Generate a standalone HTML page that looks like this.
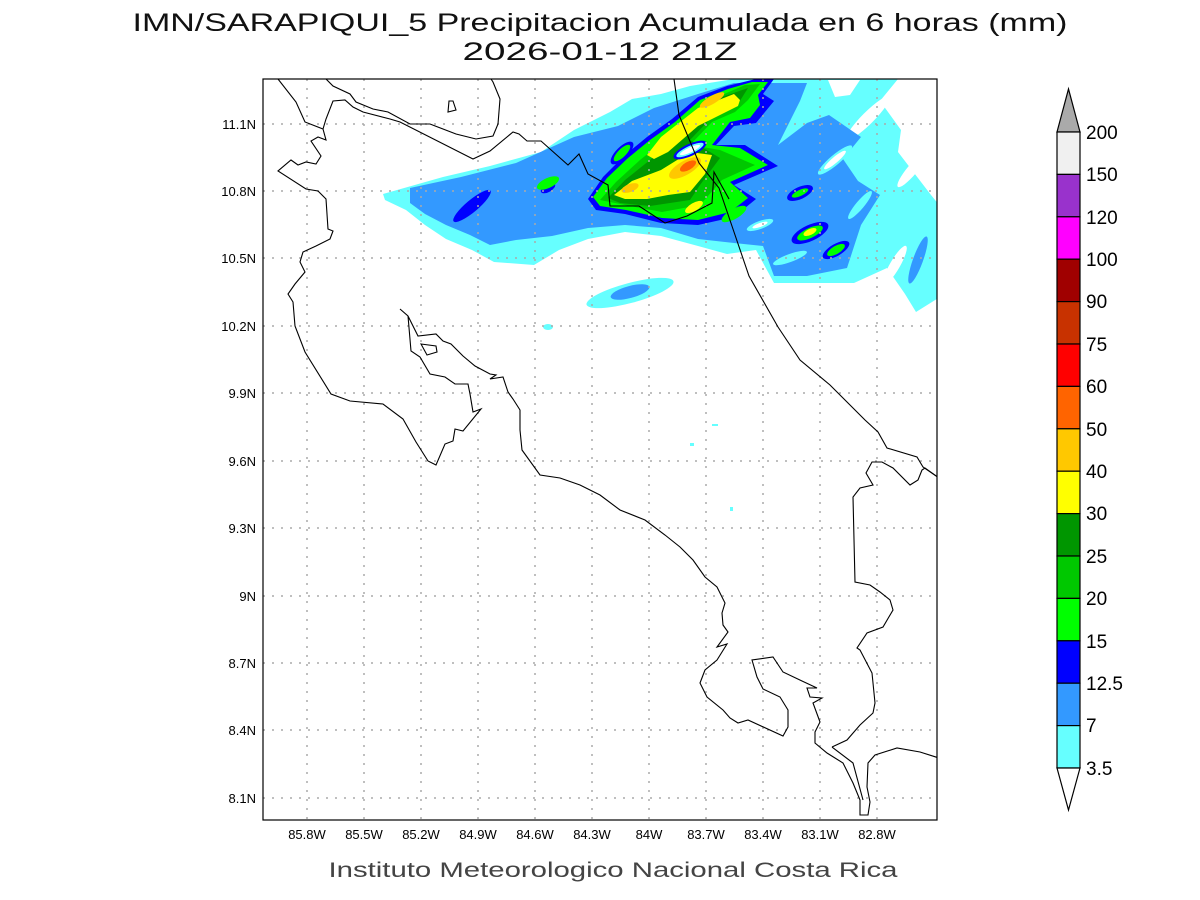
<!DOCTYPE html>
<html><head><meta charset="utf-8"><style>
html,body{margin:0;padding:0;background:#fff;}
svg{display:block;font-family:"Liberation Sans",sans-serif;}
</style></head><body>
<svg width="1200" height="900" viewBox="0 0 1200 900" xmlns="http://www.w3.org/2000/svg">
<rect width="1200" height="900" fill="#fff"/>
<text x="600" y="31" font-size="25" text-anchor="middle" textLength="935" lengthAdjust="spacingAndGlyphs" fill="#111">IMN/SARAPIQUI_5 Precipitacion Acumulada en 6 horas (mm)</text>
<text x="600" y="60" font-size="25" text-anchor="middle" textLength="275" lengthAdjust="spacingAndGlyphs" fill="#111">2026-01-12 21Z</text>

<clipPath id="c"><rect x="263" y="79" width="674" height="741"/></clipPath>
<g clip-path="url(#c)">
<!-- cyan -->
<polygon fill="#66ffff" points="383,194 443,177 490,166 541,152 574,130 610,112 632,99 661,94 690,86 734,79 898,79 880,101 901,130 898,152 931,195 940,206 940,297 916,312 905,294 887,268 854,283 774,283 756,250 727,254 698,246 661,236 625,232 588,239 559,250 534,265 494,262 472,250 446,239 425,225 406,210 385,200"/>
<ellipse cx="630" cy="293" rx="45" ry="10" transform="rotate(-15 630 293)" fill="#66ffff"/>
<ellipse cx="548" cy="327" rx="5" ry="3" fill="#66ffff"/>
<!-- white streaks in cyan (right) -->
<ellipse cx="868" cy="118" rx="30" ry="6" transform="rotate(-45 868 118)" fill="#fff"/>
<ellipse cx="912" cy="170" rx="22" ry="5" transform="rotate(-50 912 170)" fill="#fff"/>
<ellipse cx="895" cy="265" rx="22" ry="5" transform="rotate(-60 895 265)" fill="#fff"/>
<ellipse cx="925" cy="110" rx="25" ry="10" transform="rotate(-40 925 110)" fill="#fff"/>
<!-- blue 7 -->
<polygon fill="#3399ff" points="410,188 461,177 516,163 574,137 618,126 654,108 698,94 734,83 807,83 800,101 789,123 778,145 807,123 829,115 861,137 843,159 858,181 880,195 861,225 847,268 807,276 774,276 763,246 734,243 698,239 661,228 625,225 588,228 552,236 516,240 490,245 470,235 446,225 425,214 410,203"/>
<ellipse cx="630" cy="292" rx="20" ry="6" transform="rotate(-15 630 292)" fill="#3399ff"/>
<ellipse cx="918" cy="260" rx="5" ry="25" transform="rotate(20 918 260)" fill="#3399ff"/>
<polygon fill="#fff" points="828,80 860,80 850,95 835,97"/>
<!-- breaks in blue (right) -->
<ellipse cx="835" cy="160" rx="22" ry="5" transform="rotate(-40 835 160)" fill="#66ffff"/>
<ellipse cx="835" cy="160" rx="14" ry="3" transform="rotate(-40 835 160)" fill="#fff"/>
<ellipse cx="860" cy="205" rx="18" ry="4" transform="rotate(-50 860 205)" fill="#66ffff"/>
<ellipse cx="790" cy="258" rx="18" ry="4" transform="rotate(-20 790 258)" fill="#66ffff"/>
<ellipse cx="760" cy="225" rx="14" ry="4" transform="rotate(-20 760 225)" fill="#66ffff"/>
<ellipse cx="760" cy="225" rx="8" ry="2" transform="rotate(-20 760 225)" fill="#fff"/>
<!-- dark blue -->
<ellipse cx="472" cy="206" rx="24" ry="6" transform="rotate(-40 472 206)" fill="#0000ff"/>
<ellipse cx="548" cy="188" rx="8" ry="4" transform="rotate(-30 548 188)" fill="#0000ff"/>
<polygon fill="#0000ff" points="588,199 603,177 625,155 647,137 672,119 698,97 727,86 756,79 774,79 763,94 774,101 756,123 734,126 716,145 745,145 778,166 734,185 756,199 734,217 698,225 661,223 625,214 596,210"/>
<ellipse cx="800" cy="193" rx="14" ry="6" transform="rotate(-25 800 193)" fill="#0000ff"/>
<ellipse cx="810" cy="233" rx="20" ry="8" transform="rotate(-25 810 233)" fill="#0000ff"/>
<ellipse cx="836" cy="250" rx="15" ry="6" transform="rotate(-30 836 250)" fill="#0000ff"/>
<ellipse cx="622" cy="153" rx="15" ry="6" transform="rotate(-45 622 153)" fill="#0000ff"/>
<!-- greens -->
<polygon fill="#00ff00" points="593,197 607,178 628,158 650,140 675,122 700,100 728,89 752,82 768,82 758,95 760,105 750,118 730,122 712,145 740,148 768,165 730,182 748,198 730,212 698,220 662,218 626,210 600,206"/>
<ellipse cx="548" cy="183" rx="12" ry="5" transform="rotate(-25 548 183)" fill="#00ff00"/>
<ellipse cx="622" cy="153" rx="11" ry="4" transform="rotate(-45 622 153)" fill="#00ff00"/>
<ellipse cx="800" cy="193" rx="9" ry="3" transform="rotate(-25 800 193)" fill="#00ff00"/>
<ellipse cx="810" cy="233" rx="14" ry="5" transform="rotate(-25 810 233)" fill="#00ff00"/>
<ellipse cx="836" cy="250" rx="10" ry="4" transform="rotate(-30 836 250)" fill="#00ff00"/>
<ellipse cx="734" cy="214" rx="14" ry="5" transform="rotate(-30 734 214)" fill="#00ff00"/>
<polygon fill="#00c800" points="600,200 616,182 640,160 665,140 690,116 715,98 745,85 760,84 748,100 735,112 712,122 690,145 720,150 755,165 722,180 700,205 662,212 630,206"/>
<polygon fill="#009600" points="608,198 625,180 650,160 672,140 698,114 722,97 748,88 738,104 712,117 690,140 720,158 700,185 690,200 650,206 620,203"/>
<!-- yellow -->
<polygon fill="#ffff00" points="647,155 661,137 698,108 734,94 740,100 738,106 698,126 668,152 654,159"/>
<polygon fill="#ffff00" points="614,195 632,181 661,170 690,152 712,155 705,174 690,192 668,195 647,199 625,199"/>
<ellipse cx="694" cy="207" rx="10" ry="4" transform="rotate(-30 694 207)" fill="#ffff00"/>
<ellipse cx="810" cy="232" rx="7" ry="3" transform="rotate(-25 810 232)" fill="#ffff00"/>
<!-- hole -->
<ellipse cx="690" cy="150" rx="18" ry="6" transform="rotate(-25 690 150)" fill="#0000ff"/>
<ellipse cx="690" cy="150" rx="15" ry="4" transform="rotate(-25 690 150)" fill="#66ffff"/>
<ellipse cx="690" cy="150" rx="11" ry="2.5" transform="rotate(-25 690 150)" fill="#fff"/>
<!-- gold/orange -->
<ellipse cx="630" cy="188" rx="9" ry="4" transform="rotate(-20 630 188)" fill="#ffc800"/>
<ellipse cx="685" cy="168" rx="18" ry="7" transform="rotate(-30 685 168)" fill="#ffc800"/>
<ellipse cx="712" cy="100" rx="14" ry="4" transform="rotate(-30 712 100)" fill="#ffc800"/>
<ellipse cx="688" cy="166" rx="9" ry="4" transform="rotate(-30 688 166)" fill="#ff6400"/>
<rect x="690" y="443" width="4" height="3" fill="#66ffff"/>
<rect x="730" y="507" width="3" height="4" fill="#66ffff"/>
<rect x="712" y="424" width="6" height="2" fill="#66ffff"/>
</g>

<!-- grid -->
<g stroke="#aaa" stroke-width="1.5" stroke-dasharray="2,7">
<path d="M307 79V820M364 79V820M421 79V820M478 79V820M535 79V820M592 79V820M649 79V820M706 79V820M763 79V820M820 79V820M877 79V820"/>
<path d="M263 124H937M263 191H937M263 258H937M263 326H937M263 393H937M263 461H937M263 528H937M263 596H937M263 663H937M263 730H937M263 798H937"/>
</g>

<!-- coastlines -->
<g fill="none" stroke="#000" stroke-width="1.1" clip-path="url(#c)">
<polyline points="278,79 296,102 305,122 323,129 326,140 318,137 311,141 321,156 316,164 306,162 298,165 291,160 278,171 306,189 318,191 326,199 328,229 333,231 330,239 316,246 303,252 300,262 305,272 295,284 288,294 293,302 295,326 305,352 331,394 350,401 383,404 403,419 416,442 428,461 436,465 445,444 453,441 455,429 463,431 481,409 473,412 470,394 468,384 455,384 445,377 430,374 420,357 411,351 408,316 400,309 408,316 418,336 436,334 443,341 451,344 463,356 475,366 490,374 496,375 490,379 503,377 508,392 513,399 520,410 520,430 522,450 540,475 560,478 580,485 600,495 620,510 645,520 665,535 680,547 693,560 705,577 717,587 725,603 722,613 723,625 728,632 717,647 727,644 717,660 705,670 700,683 707,697 723,710 730,718 738,723 748,720 783,736 788,727 788,710 780,697 763,689 757,677 752,660 773,657 783,672 802,681 817,688 807,688 810,697 822,698 813,703 820,722 815,732 815,743 827,753 843,763 853,783 860,800 860,815 868,815 870,802 867,787 868,763 875,755 897,748 920,752 939,758"/>
<polyline points="832,747 847,740 860,725 873,713 875,703 872,673 860,650 857,648 867,633 883,627 893,610 890,600 880,592 870,585 855,582 853,497 860,488 873,485 866,473 872,462 882,462 893,468 910,485 918,480 922,470 925,468 939,478"/>
<polyline points="832,747 853,763 863,800"/>
<polyline points="674,79 679,115 699,163 719,188 734,232 749,276 778,327 800,360 830,385 850,405 865,420 878,432 887,448 917,457 923,467 939,478"/>
<polyline points="323,129 326,119 333,101 345,100 353,107 363,112 390,119 400,122 473,159 490,151 513,132 519,134 527,141 541,141 568,165 579,154 588,174 608,185 610,206 639,206 665,223 687,216 712,203 714,172 729,199"/>
<polyline points="326,79 333,86 350,94 356,102 373,109 388,112 410,124 430,124 456,134 476,139 493,136 498,124 500,99 493,82 491,79"/>
<polygon points="421,344 436,346 437,352 427,355"/>
<polygon points="449,101 453,101 456,110 448,112"/>
</g>
<rect x="263" y="79" width="674" height="741" fill="none" stroke="#000" stroke-width="1.2"/>

<!-- tick labels -->
<g font-size="13" text-anchor="end">
<text x="256" y="129">11.1N</text><text x="256" y="196">10.8N</text><text x="256" y="263">10.5N</text><text x="256" y="331">10.2N</text><text x="256" y="398">9.9N</text><text x="256" y="466">9.6N</text><text x="256" y="533">9.3N</text><text x="256" y="601">9N</text><text x="256" y="668">8.7N</text><text x="256" y="735">8.4N</text><text x="256" y="803">8.1N</text>
</g>
<g font-size="13" text-anchor="middle">
<text x="307" y="839">85.8W</text><text x="364" y="839">85.5W</text><text x="421" y="839">85.2W</text><text x="478" y="839">84.9W</text><text x="535" y="839">84.6W</text><text x="592" y="839">84.3W</text><text x="649" y="839">84W</text><text x="706" y="839">83.7W</text><text x="763" y="839">83.4W</text><text x="820" y="839">83.1W</text><text x="877" y="839">82.8W</text>
</g>
<text x="613" y="877" font-size="21" fill="#444" text-anchor="middle" textLength="569" lengthAdjust="spacingAndGlyphs">Instituto Meteorologico Nacional Costa Rica</text>

<!-- colorbar -->
<g stroke="#000" stroke-width="1.2">
<polygon points="1057,132 1080,132 1068.5,89" fill="#aaaaaa"/>
<rect x="1057" y="132" width="23" height="42.4" fill="#f0f0f0"/>
<rect x="1057" y="174.4" width="23" height="42.4" fill="#9932cc"/>
<rect x="1057" y="216.8" width="23" height="42.4" fill="#ff00ff"/>
<rect x="1057" y="259.2" width="23" height="42.4" fill="#a00000"/>
<rect x="1057" y="301.6" width="23" height="42.4" fill="#c83200"/>
<rect x="1057" y="344" width="23" height="42.4" fill="#ff0000"/>
<rect x="1057" y="386.4" width="23" height="42.4" fill="#ff6400"/>
<rect x="1057" y="428.8" width="23" height="42.4" fill="#ffc800"/>
<rect x="1057" y="471.2" width="23" height="42.4" fill="#ffff00"/>
<rect x="1057" y="513.6" width="23" height="42.4" fill="#009600"/>
<rect x="1057" y="556" width="23" height="42.4" fill="#00c800"/>
<rect x="1057" y="598.4" width="23" height="42.4" fill="#00ff00"/>
<rect x="1057" y="640.8" width="23" height="42.4" fill="#0000ff"/>
<rect x="1057" y="683.2" width="23" height="42.4" fill="#3399ff"/>
<rect x="1057" y="725.6" width="23" height="42.4" fill="#66ffff"/>
<polygon points="1057,768 1080,768 1068.5,810" fill="#fff"/>
</g>
<g font-size="19">
<text x="1086" y="139">200</text><text x="1086" y="181">150</text><text x="1086" y="224">120</text><text x="1086" y="266">100</text><text x="1086" y="308">90</text><text x="1086" y="351">75</text><text x="1086" y="393">60</text><text x="1086" y="436">50</text><text x="1086" y="478">40</text><text x="1086" y="520">30</text><text x="1086" y="563">25</text><text x="1086" y="605">20</text><text x="1086" y="648">15</text><text x="1086" y="690">12.5</text><text x="1086" y="732">7</text><text x="1086" y="775">3.5</text>
</g>
</svg>
</body></html>
